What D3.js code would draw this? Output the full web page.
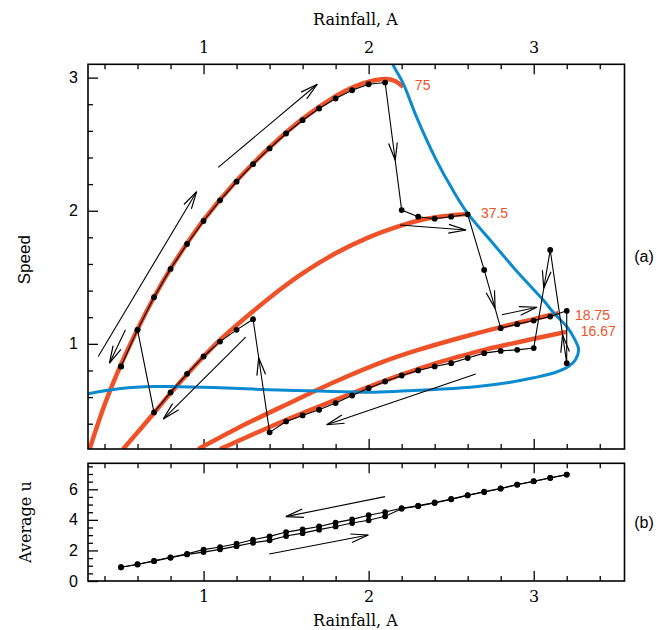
<!DOCTYPE html>
<html>
<head>
<meta charset="utf-8">
<script src="https://cdn.jsdelivr.net/npm/d3@7"></script>
<style>
  html, body { margin: 0; padding: 0; background: #fff; }
  svg { display: block; }
</style>
</head>
<body>
<svg id="chart" width="672" height="630"></svg>
<script>
// ---- data -------------------------------------------------------------
// rainfall steps of the simulation (increasing sweep)
const rainfallUp = [0.5,0.6,0.7,0.8,0.9,1.0,1.1,1.2,1.3,1.4,1.5,1.6,1.7,1.8,1.9,2.0,2.1,2.2,2.3,2.4,2.5,2.6,2.7,2.8,2.9,3.0,3.1,3.2];
// decreasing sweep
const rainfallDown = [3.2,3.1,3.0,2.9,2.8,2.7,2.6,2.5,2.4,2.3,2.2,2.1,2.0,1.9,1.8,1.7,1.6,1.5,1.4,1.3,1.2,1.1,1.0,0.9,0.8,0.7,0.6,0.5];

// migration speed along each sweep
const speedUp = [0.83,1.105,1.35,1.563,1.75,1.923,2.078,2.218,2.35,2.468,2.58,2.68,2.768,2.843,2.905,2.95,2.963,2.005,1.955,1.94,1.955,1.973,1.555,1.118,1.148,1.175,1.205,1.248];
const speedDown = [0.855,1.705,0.968,0.955,0.947,0.93,0.893,0.855,0.83,0.80,0.762,0.717,0.667,0.612,0.555,0.505,0.462,0.417,0.335,1.185,1.105,1.017,0.905,0.775,0.635,0.485,1.105,0.83];

// average u along each sweep
const avgUUp = [0.90,1.08,1.30,1.52,1.74,1.89,2.07,2.28,2.50,2.66,2.94,3.13,3.36,3.57,3.79,3.97,4.23,4.73,4.89,5.10,5.34,5.60,5.82,6.04,6.30,6.52,6.74,6.96];
const avgUDown = [6.96,6.75,6.53,6.31,6.06,5.84,5.62,5.37,5.14,4.93,4.76,4.51,4.30,4.03,3.82,3.57,3.38,3.20,2.92,2.70,2.44,2.22,2.05,1.78,1.55,1.32,1.10,0.90];

// uniform-wavelength solution branches (label = wavelength)
const branchLabels = ["75", "37.5", "18.75", "16.67"];
const branch75A = [0.31,0.4,0.5,0.6,0.7,0.8,0.9,1.0,1.2,1.4,1.6,1.8,1.9,2.0,2.1,2.16,2.21];
const branch75S = [0.21,0.54,0.845,1.11,1.35,1.565,1.755,1.93,2.225,2.475,2.69,2.86,2.925,2.97,2.99,2.975,2.93];
const branch375A = [0.513,0.6,0.7,0.8,0.9,1.0,1.1,1.2,1.3,1.46,1.6,1.8,2.0,2.2,2.31,2.4,2.5,2.6];
const branch375S = [0.21,0.335,0.48,0.63,0.77,0.905,1.03,1.14,1.245,1.405,1.53,1.68,1.8,1.89,1.928,1.95,1.965,1.975];
const branch1875A = [0.968,1.2,1.5,1.8,2.07,2.3,2.55,2.8,3.0,3.15];
const branch1875S = [0.21,0.363,0.543,0.717,0.857,0.954,1.044,1.126,1.186,1.231];
const branch1667A = [1.1,1.4,1.6,1.8,2.0,2.2,2.4,2.55,2.7,2.86,3.0,3.2];
const branch1667S = [0.21,0.375,0.48,0.58,0.676,0.768,0.852,0.905,0.955,1.0,1.038,1.09];
// where each branch label sits (rainfall, speed)
const branchLabelA = [2.28, 2.68, 3.25, 3.285];
const branchLabelS = [2.943, 1.983, 1.218, 1.093];

// stability boundary
const boundaryA = [2.13,2.15,2.21,2.29,2.41,2.51,2.6,2.75,2.88,2.96,3.05,3.13,3.2,3.25,3.272,3.255,3.21,3.13,3.0,2.85,2.66,2.45,2.2,2.0,1.7,1.4,1.1,0.85,0.7,0.5,0.3,0.25];
const boundaryS = [3.15,3.09,2.955,2.705,2.38,2.155,1.98,1.76,1.57,1.46,1.34,1.22,1.13,1.03,0.96,0.885,0.83,0.785,0.745,0.71,0.68,0.66,0.645,0.637,0.645,0.655,0.67,0.678,0.68,0.665,0.625,0.61];

// axis ticks
const rainfallTicks = [1, 2, 3];
const speedTicks = [1, 2, 3];
const avgUTicks = [0, 2, 4, 6];

// direction arrows: [rainfall0, value0, rainfall1, value1], head at the second point
const speedArrows = [
  [1.089, 2.326, 1.689, 2.95],
  [0.362, 0.905, 0.958, 2.143],
  [0.527, 1.105, 0.43, 0.855],
  [1.255, 1.05, 0.756, 0.435],
  [2.649, 0.773, 1.746, 0.392],
  [2.19, 1.893, 2.59, 1.855],
  [2.807, 1.218, 3.019, 1.275]
];
const avgUArrows = [
  [2.099, 5.52, 1.499, 4.21],
  [1.398, 1.77, 1.998, 3.01]
];
// arrowheads placed on the sweep path: [segment start index, fraction along segment]
const pathHeads = [[16, 0.61], [22, 0.66], [28, 0.25], [29, 0.39], [46, 0.66]];

// ---- layout -----------------------------------------------------------
const svg = d3.select("#chart");
const left = 88, right = 624.5;
const topA = 64.3, botA = 449;
const topB = 463.3, botB = 581;
const orange = "#ef5228", blue = "#0b8bcf";
const serif = "'DejaVu Serif', serif";
const sans = "'Liberation Sans', Arial, sans-serif";

const x = d3.scaleLinear().domain([0.3, 3.55]).range([left, right]);
const ySpeed = d3.scaleLinear().domain([0.21, 3.1]).range([botA, topA]);
const yU = d3.scaleLinear().domain([0, 7.7]).range([botB, topB]);

const defs = svg.append("defs");
defs.append("clipPath").attr("id", "clipA").append("rect")
  .attr("x", left).attr("y", topA).attr("width", right - left).attr("height", botA - topA);
defs.append("clipPath").attr("id", "clipB").append("rect")
  .attr("x", left).attr("y", topB).attr("width", right - left).attr("height", botB - topB);

// ---- axes helpers -----------------------------------------------------
function styleAxis(g) {
  g.select(".domain").remove();
  g.selectAll(".tick line").attr("stroke", "#000").attr("stroke-width", 1.3);
}
function xAxes(yTop, yBot, labelTop, labelBot) {
  const minor = d3.range(0.4, 3.5, 0.2).map(v => +v.toFixed(1)).filter(v => !rainfallTicks.includes(v));
  svg.append("g").attr("transform", `translate(0,${yTop})`)
    .call(d3.axisTop(x).tickValues(minor).tickSizeInner(-5).tickFormat("")).call(styleAxis);
  svg.append("g").attr("transform", `translate(0,${yBot})`)
    .call(d3.axisBottom(x).tickValues(minor).tickSizeInner(-5).tickFormat("")).call(styleAxis);
  const t = svg.append("g").attr("transform", `translate(0,${yTop})`)
    .call(d3.axisTop(x).tickValues(rainfallTicks).tickSizeInner(-10).tickPadding(11)
      .tickFormat(labelTop ? d3.format("d") : "")).call(styleAxis);
  const b = svg.append("g").attr("transform", `translate(0,${yBot})`)
    .call(d3.axisBottom(x).tickValues(rainfallTicks).tickSizeInner(-10).tickPadding(10)
      .tickFormat(labelBot ? d3.format("d") : "")).call(styleAxis);
  [t, b].forEach(g => g.selectAll("text").attr("font-family", serif).attr("font-size", 16).attr("fill", "#000"));
}
function yAxis(scale, major, minor) {
  svg.append("g").attr("transform", `translate(${left},0)`)
    .call(d3.axisLeft(scale).tickValues(minor).tickSizeInner(-5).tickFormat("")).call(styleAxis);
  const g = svg.append("g").attr("transform", `translate(${left},0)`)
    .call(d3.axisLeft(scale).tickValues(major).tickSizeInner(-10).tickPadding(10).tickFormat(d3.format("d")))
    .call(styleAxis);
  g.selectAll("text").attr("font-family", sans).attr("font-size", 16).attr("fill", "#000");
}

// ---- panel (a): speed ---------------------------------------------------
xAxes(topA, botA, true, false);
yAxis(ySpeed, speedTicks,
  d3.range(0.4, 3.05, 0.2).map(v => +v.toFixed(1)).filter(v => !speedTicks.includes(v)));

const curve = d3.line().x(d => x(d[0])).y(d => ySpeed(d[1])).curve(d3.curveCatmullRom.alpha(0.5));
const plotA = svg.append("g").attr("clip-path", "url(#clipA)");

const branches = [
  [branch75A, branch75S], [branch375A, branch375S],
  [branch1875A, branch1875S], [branch1667A, branch1667S]
];
branches.forEach(([a, s]) => {
  plotA.append("path").datum(a.map((v, i) => [v, s[i]]))
    .attr("d", curve).attr("fill", "none").attr("stroke", orange)
    .attr("stroke-width", 4.5).attr("stroke-linecap", "butt");
});
plotA.append("path").datum(boundaryA.map((v, i) => [v, boundaryS[i]]))
  .attr("d", curve).attr("fill", "none").attr("stroke", blue).attr("stroke-width", 3);

branchLabels.forEach((lab, i) => {
  svg.append("text").attr("x", x(branchLabelA[i])).attr("y", ySpeed(branchLabelS[i]))
    .attr("dy", "0.35em").attr("font-family", sans).attr("font-size", 14)
    .attr("fill", orange).text(lab);
});

// sweep path
const sweep = rainfallUp.map((a, i) => [a, speedUp[i]])
  .concat(rainfallDown.map((a, i) => [a, speedDown[i]]));
const straight = d3.line().x(d => x(d[0])).y(d => ySpeed(d[1]));
plotA.append("path").datum(sweep).attr("d", straight)
  .attr("fill", "none").attr("stroke", "#000").attr("stroke-width", 1.1);
plotA.selectAll("circle.sw").data(sweep).join("circle").attr("class", "sw")
  .attr("cx", d => x(d[0])).attr("cy", d => ySpeed(d[1])).attr("r", 2.9).attr("fill", "#000");

// arrowheads
function head(g, x1, y1, x2, y2) {
  const ang = Math.atan2(y2 - y1, x2 - x1), len = 18, spread = 14 * Math.PI / 180;
  const p = [ang + Math.PI - spread, ang + Math.PI + spread]
    .map(t => [x2 + len * Math.cos(t), y2 + len * Math.sin(t)]);
  g.append("path").attr("d", `M${p[0][0]},${p[0][1]}L${x2},${y2}L${p[1][0]},${p[1][1]}`)
    .attr("fill", "none").attr("stroke", "#000").attr("stroke-width", 1.2);
}
function arrow(g, yScale, d) {
  const x1 = x(d[0]), y1 = yScale(d[1]), x2 = x(d[2]), y2 = yScale(d[3]);
  g.append("line").attr("x1", x1).attr("y1", y1).attr("x2", x2).attr("y2", y2)
    .attr("stroke", "#000").attr("stroke-width", 1.1);
  head(g, x1, y1, x2, y2);
}
const arrowsA = svg.append("g");
speedArrows.forEach(d => arrow(arrowsA, ySpeed, d));
pathHeads.forEach(([i, f]) => {
  const p0 = sweep[i], p1 = sweep[i + 1];
  const x1 = x(p0[0]), y1 = ySpeed(p0[1]), x2 = x(p1[0]), y2 = ySpeed(p1[1]);
  head(arrowsA, x1, y1, x1 + (x2 - x1) * f, y1 + (y2 - y1) * f);
});

svg.append("rect").attr("x", left).attr("y", topA).attr("width", right - left).attr("height", botA - topA)
  .attr("fill", "none").attr("stroke", "#000").attr("stroke-width", 1.6);

// ---- panel (b): average u ---------------------------------------------
xAxes(topB, botB, false, true);
yAxis(yU, avgUTicks, d3.range(0.5, 7.6, 0.5).filter(v => !avgUTicks.includes(v)));

const plotB = svg.append("g").attr("clip-path", "url(#clipB)");
const uLine = d3.line().x(d => x(d[0])).y(d => yU(d[1]));
const upPts = rainfallUp.map((a, i) => [a, avgUUp[i]]);
const downPts = rainfallDown.map((a, i) => [a, avgUDown[i]]);
[upPts, downPts].forEach(pts => {
  plotB.append("path").datum(pts).attr("d", uLine).attr("fill", "none")
    .attr("stroke", "#000").attr("stroke-width", 1.1);
  plotB.selectAll(null).data(pts).join("circle")
    .attr("cx", d => x(d[0])).attr("cy", d => yU(d[1])).attr("r", 2.9).attr("fill", "#000");
});
const arrowsB = svg.append("g");
avgUArrows.forEach(d => arrow(arrowsB, yU, d));

svg.append("rect").attr("x", left).attr("y", topB).attr("width", right - left).attr("height", botB - topB)
  .attr("fill", "none").attr("stroke", "#000").attr("stroke-width", 1.6);

// ---- titles -------------------------------------------------------------
svg.append("text").attr("x", x(1.92)).attr("y", 25).attr("text-anchor", "middle")
  .attr("font-family", serif).attr("font-size", 16).text("Rainfall, A");
svg.append("text").attr("x", x(1.92)).attr("y", 626).attr("text-anchor", "middle")
  .attr("font-family", serif).attr("font-size", 16).text("Rainfall, A");
svg.append("text").attr("transform", `translate(30,${(topA + botA) / 2 + 3}) rotate(-90)`)
  .attr("text-anchor", "middle").attr("font-family", sans).attr("font-size", 17).text("Speed");
svg.append("text").attr("transform", `translate(31,${(topB + botB) / 2}) rotate(-90)`)
  .attr("text-anchor", "middle").attr("font-family", serif).attr("font-size", 16).text("Average u");
svg.append("text").attr("x", 644).attr("y", (topA + botA) / 2).attr("dy", "0.35em").attr("text-anchor", "middle")
  .attr("font-family", sans).attr("font-size", 16).text("(a)");
svg.append("text").attr("x", 644).attr("y", (topB + botB) / 2).attr("dy", "0.35em").attr("text-anchor", "middle")
  .attr("font-family", sans).attr("font-size", 16).text("(b)");
</script>
</body>
</html>
